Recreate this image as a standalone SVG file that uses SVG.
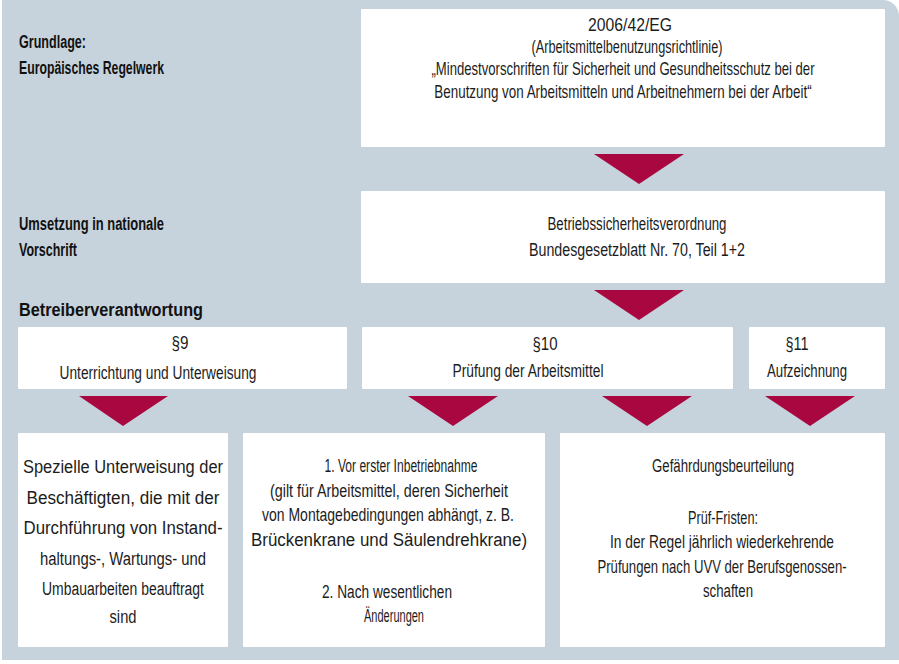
<svg xmlns="http://www.w3.org/2000/svg" width="899" height="664" viewBox="0 0 899 664">
<style>
.box{fill:#ffffff}
.tri{fill:#a8073f}
.t{font-family:"Liberation Sans",Arial,sans-serif;font-size:18px;fill:#1c1c1c;text-anchor:middle}
.b{font-family:"Liberation Sans",Arial,sans-serif;font-size:18px;font-weight:bold;fill:#111111}
</style>
<rect width="899" height="664" fill="#ffffff"/>
<path d="M2,0 H883 A16,16 0 0 1 899,16 V660 H2 Z" fill="#c7d3dc"/>
<g id="labels">
<text class="b" x="19" y="48" textLength="67" lengthAdjust="spacingAndGlyphs">Grundlage:</text>
<text class="b" x="19" y="74" textLength="145" lengthAdjust="spacingAndGlyphs">Europäisches Regelwerk</text>
<text class="b" x="19" y="230" textLength="145" lengthAdjust="spacingAndGlyphs">Umsetzung in nationale</text>
<text class="b" x="19" y="256" textLength="58" lengthAdjust="spacingAndGlyphs">Vorschrift</text>
<text class="b" x="19" y="316" textLength="184" lengthAdjust="spacingAndGlyphs">Betreiberverantwortung</text>
</g>
<g id="n-richtlinie">
<rect class="box" x="361" y="9" width="524" height="138" rx="1"/>
<text class="t" x="630" y="31" textLength="84" lengthAdjust="spacingAndGlyphs">2006/42/EG</text>
<text class="t" x="627" y="53" textLength="191" lengthAdjust="spacingAndGlyphs">(Arbeitsmittelbenutzungsrichtlinie)</text>
<text class="t" transform="translate(623,75) scale(0.72,1)" x="0" y="0" textLength="532" lengthAdjust="spacingAndGlyphs">„Mindestvorschriften für Sicherheit und Gesundheitsschutz bei der</text>
<text class="t" transform="translate(623,98) scale(0.72,1)" x="0" y="0" textLength="524" lengthAdjust="spacingAndGlyphs">Benutzung von Arbeitsmitteln und Arbeitnehmern bei der Arbeit“</text>
</g>
<g id="n-betrsichv">
<rect class="box" x="361" y="191" width="524" height="92" rx="1"/>
<text class="t" x="637" y="230" textLength="179" lengthAdjust="spacingAndGlyphs">Betriebssicherheitsverordnung</text>
<text class="t" x="637" y="256" textLength="216" lengthAdjust="spacingAndGlyphs">Bundesgesetzblatt Nr. 70, Teil 1+2</text>
</g>
<g id="n-p9">
<rect class="box" x="18" y="327" width="329" height="62" rx="1"/>
<text class="t" x="180" y="349" textLength="17" lengthAdjust="spacingAndGlyphs">§9</text>
<text class="t" x="158" y="379" textLength="197" lengthAdjust="spacingAndGlyphs">Unterrichtung und Unterweisung</text>
</g>
<g id="n-p10">
<rect class="box" x="362" y="327" width="371" height="62" rx="1"/>
<text class="t" x="545" y="350" textLength="25" lengthAdjust="spacingAndGlyphs">§10</text>
<text class="t" x="528" y="377" textLength="151" lengthAdjust="spacingAndGlyphs">Prüfung der Arbeitsmittel</text>
</g>
<g id="n-p11">
<rect class="box" x="749" y="327" width="136" height="62" rx="1"/>
<text class="t" x="797" y="350" textLength="23" lengthAdjust="spacingAndGlyphs">§11</text>
<text class="t" x="807" y="377" textLength="80" lengthAdjust="spacingAndGlyphs">Aufzeichnung</text>
</g>
<g id="n-unterweisung">
<rect class="box" x="18" y="433" width="210" height="214" rx="1"/>
<text class="t" x="123" y="473" textLength="200" lengthAdjust="spacingAndGlyphs">Spezielle Unterweisung der</text>
<text class="t" x="123" y="504" textLength="193" lengthAdjust="spacingAndGlyphs">Beschäftigten, die mit der</text>
<text class="t" x="123" y="534" textLength="199" lengthAdjust="spacingAndGlyphs">Durchführung von Instand-</text>
<text class="t" x="123" y="565" textLength="166" lengthAdjust="spacingAndGlyphs">haltungs-, Wartungs- und</text>
<text class="t" x="123" y="595" textLength="162" lengthAdjust="spacingAndGlyphs">Umbauarbeiten beauftragt</text>
<text class="t" x="123" y="623" textLength="27" lengthAdjust="spacingAndGlyphs">sind</text>
</g>
<g id="n-pruefung">
<rect class="box" x="243" y="433" width="302" height="214" rx="1"/>
<text class="t" x="401" y="472" textLength="153" lengthAdjust="spacingAndGlyphs">1. Vor erster Inbetriebnahme</text>
<text class="t" x="389" y="497" textLength="238" lengthAdjust="spacingAndGlyphs">(gilt für Arbeitsmittel, deren Sicherheit</text>
<text class="t" transform="translate(388,521) scale(0.72,1)" x="0" y="0" textLength="350" lengthAdjust="spacingAndGlyphs">von Montagebedingungen abhängt, z. B.</text>
<text class="t" x="389" y="546" textLength="276" lengthAdjust="spacingAndGlyphs">Brückenkrane und Säulendrehkrane)</text>
<text class="t" x="387" y="598" textLength="130" lengthAdjust="spacingAndGlyphs">2. Nach wesentlichen</text>
<text class="t" x="394" y="622" textLength="60" lengthAdjust="spacingAndGlyphs">Änderungen</text>
</g>
<g id="n-gefaehrdung">
<rect class="box" x="560" y="433" width="325" height="214" rx="1"/>
<text class="t" x="723" y="472" textLength="142" lengthAdjust="spacingAndGlyphs">Gefährdungsbeurteilung</text>
<text class="t" x="723" y="524" textLength="70" lengthAdjust="spacingAndGlyphs">Prüf-Fristen:</text>
<text class="t" transform="translate(722,548) scale(0.72,1)" x="0" y="0" textLength="311" lengthAdjust="spacingAndGlyphs">In der Regel jährlich wiederkehrende</text>
<text class="t" transform="translate(722,573) scale(0.72,1)" x="0" y="0" textLength="346" lengthAdjust="spacingAndGlyphs">Prüfungen nach UVV der Berufsgenossen-</text>
<text class="t" x="728" y="597" textLength="50" lengthAdjust="spacingAndGlyphs">schaften</text>
</g>
<g id="connectors">
<polygon class="tri" points="594,154 684,154 639,184"/>
<polygon class="tri" points="594,290 684,290 639,320"/>
<polygon class="tri" points="79,396 168,396 123,426"/>
<polygon class="tri" points="408,396 498,396 453,426"/>
<polygon class="tri" points="602,396 692,396 647,426"/>
<polygon class="tri" points="765,396 855,396 810,426"/>
</g>
</svg>
